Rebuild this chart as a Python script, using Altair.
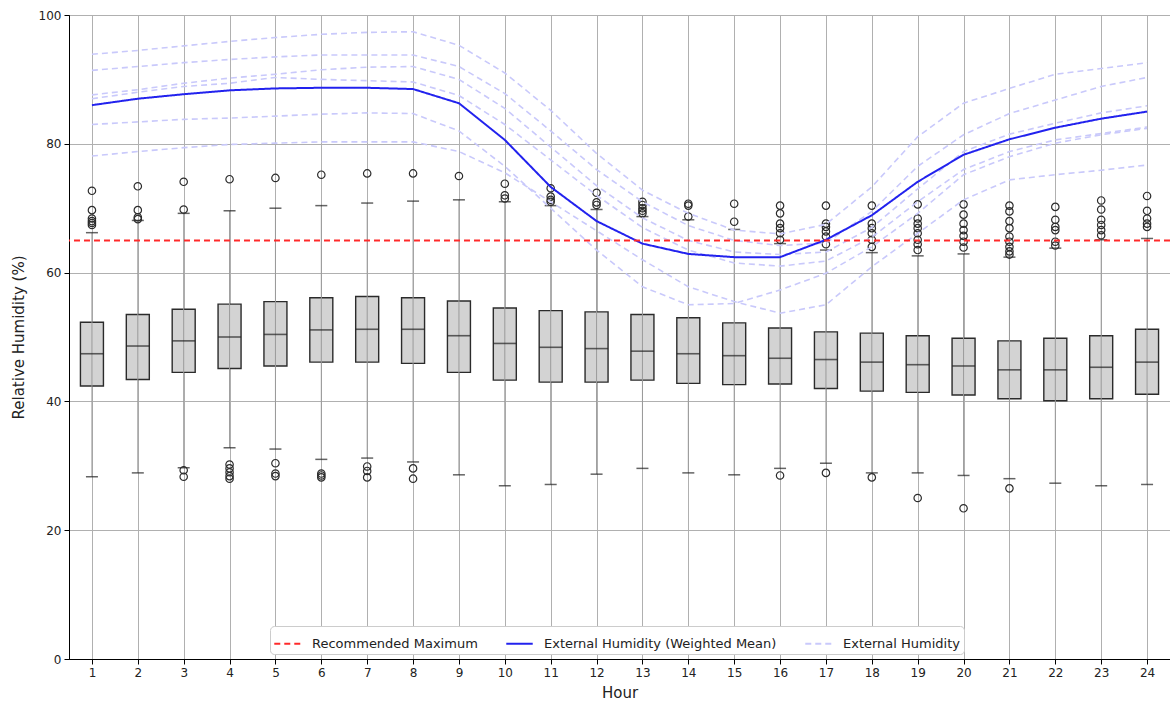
import altair as alt
import pandas as pd

# ---- data -------------------------------------------------------------
hours = list(range(1, 25))

q1 = [42.4, 43.4, 44.5, 45.1, 45.5, 46.1, 46.1, 45.9, 44.5, 43.3, 43.0, 43.0,
      43.3, 42.8, 42.6, 42.7, 42.0, 41.6, 41.4, 41.0, 40.4, 40.1, 40.4, 41.1]
median = [47.4, 48.6, 49.4, 50.0, 50.4, 51.1, 51.2, 51.2, 50.2, 49.0, 48.4, 48.2,
          47.8, 47.4, 47.1, 46.7, 46.5, 46.1, 45.7, 45.5, 44.9, 44.9, 45.3, 46.1]
q3 = [52.3, 53.5, 54.3, 55.1, 55.5, 56.1, 56.3, 56.1, 55.6, 54.5, 54.1, 53.9,
      53.5, 53.0, 52.2, 51.4, 50.8, 50.6, 50.2, 49.8, 49.4, 49.8, 50.2, 51.2]
whisker_low = [28.3, 28.9, 29.7, 32.8, 32.6, 31.0, 31.2, 30.6, 28.6, 26.9, 27.1, 28.7,
               29.6, 28.9, 28.6, 29.6, 30.4, 28.9, 28.9, 28.5, 28.0, 27.3, 26.9, 27.1]
whisker_high = [66.2, 68.1, 69.2, 69.6, 70.0, 70.4, 70.8, 71.1, 71.3, 71.0, 70.4, 69.8,
                68.7, 68.2, 66.7, 64.5, 63.5, 63.1, 62.6, 62.9, 62.4, 63.8, 65.1, 65.3]

outliers_high = [
    [72.7, 69.7, 68.4, 68.0, 67.7, 67.4],
    [73.4, 69.7, 68.6, 68.3],
    [74.1, 69.8],
    [74.5],
    [74.7],
    [75.2],
    [75.4],
    [75.4],
    [75.0],
    [73.8, 72.0, 71.5],
    [73.1, 71.8, 71.3, 71.0],
    [72.4, 70.9, 70.5],
    [71.0, 70.5, 70.0, 69.6, 69.2],
    [70.7, 70.4, 68.7],
    [70.7, 67.9],
    [70.4, 69.2, 67.6, 66.9, 66.1, 65.1],
    [70.4, 67.6, 67.1, 66.4, 65.6, 64.4],
    [70.4, 67.6, 66.9, 66.1, 65.1, 64.0],
    [70.6, 68.4, 67.6, 66.9, 66.1, 65.1, 64.4, 63.5],
    [70.6, 69.0, 67.6, 66.6, 65.7, 64.8, 63.9],
    [70.4, 69.5, 68.0, 66.9, 65.6, 64.8, 64.0, 63.3, 62.8],
    [70.2, 68.2, 67.1, 66.6, 64.8, 64.2],
    [71.2, 69.8, 68.2, 67.4, 66.6, 65.8],
    [71.9, 69.6, 68.4, 67.6, 67.1],
]
outliers_low = [
    [], [], [29.3, 28.3], [30.2, 29.6, 29.0, 28.4, 28.0], [30.4, 28.8, 28.4],
    [28.8, 28.5, 28.2], [29.9, 29.2, 28.2], [29.6, 28.0], [], [], [], [], [], [],
    [], [28.5], [28.9], [28.2], [25.0], [23.4], [26.5], [], [], [],
]

weighted_mean = [86.0, 87.0, 87.7, 88.3, 88.6, 88.7, 88.7, 88.5, 86.3, 80.6, 73.3, 68.0,
                 64.5, 62.9, 62.4, 62.4, 65.1, 68.9, 74.1, 78.3, 80.7, 82.5, 83.9, 85.0]

external = {
    "A": [93.9, 94.5, 95.2, 95.9, 96.5, 97.0, 97.3, 97.4, 95.3, 91.0, 85.2, 78.5,
          72.8, 69.2, 66.6, 66.0, 67.5, 73.3, 81.1, 86.3, 88.6, 90.8, 91.7, 92.6],
    "B": [91.4, 92.0, 92.6, 93.1, 93.5, 93.8, 93.8, 93.8, 92.0, 87.8, 82.0, 76.0,
          71.0, 67.3, 65.0, 64.2, 64.6, 69.5, 76.5, 81.4, 84.7, 86.8, 88.9, 90.3],
    "C": [87.6, 88.4, 89.4, 90.2, 90.8, 91.5, 91.9, 92.0, 90.0, 85.5, 79.5, 73.5,
          68.5, 65.0, 63.2, 62.8, 63.2, 67.0, 73.0, 78.8, 81.5, 83.2, 84.8, 85.9],
    "D": [87.0, 88.0, 88.9, 89.4, 90.3, 90.0, 89.8, 89.6, 87.5, 83.0, 77.5, 72.0,
          67.0, 63.5, 61.5, 61.0, 61.8, 65.5, 71.0, 76.0, 78.8, 80.6, 81.6, 82.6],
    "E": [83.0, 83.4, 83.8, 84.0, 84.3, 84.6, 84.8, 84.7, 82.0, 76.5, 70.0, 63.5,
          57.8, 55.0, 55.2, 57.3, 59.9, 64.0, 69.2, 75.2, 78.0, 80.1, 81.4, 82.4],
    "F": [78.1, 78.8, 79.4, 79.9, 80.1, 80.3, 80.3, 80.3, 78.8, 75.5, 71.0, 66.5,
          62.0, 57.8, 55.5, 53.7, 55.0, 60.9, 66.1, 71.3, 74.4, 75.2, 75.9, 76.7],
}

recommended_max = 65

series_names = ["Recommended Maximum", "External Humidity (Weighted Mean)", "External Humidity"]
series_colors = ["#ff2a2a", "#2222ee", "#c9c9fb"]
series_dashes = [[6, 4], [1, 0], [6, 4]]

# ---- tables -----------------------------------------------------------
box_df = pd.DataFrame({"hour": hours, "q1": q1, "median": median, "q3": q3,
                       "low": whisker_low, "high": whisker_high})
out_df = pd.DataFrame(
    [{"hour": h, "value": v} for h, hi, lo in zip(hours, outliers_high, outliers_low) for v in hi + lo]
)
mean_df = pd.DataFrame({"hour": hours, "value": weighted_mean, "series": series_names[1]})
ext_df = pd.DataFrame(
    [{"hour": h, "value": v, "station": k, "series": series_names[2]}
     for k, vals in external.items() for h, v in zip(hours, vals)]
)
rec_df = pd.DataFrame({"value": [recommended_max], "series": [series_names[0]]})

# ---- shared encodings -------------------------------------------------
FONT = "DejaVu Sans"
x_scale = alt.Scale(domain=[0.5, 24.5], nice=False, zero=False, padding=0)
y_scale = alt.Scale(domain=[0, 100], nice=False)
x_axis = alt.Axis(values=hours, format="d", title="Hour", grid=True)
y_axis = alt.Axis(values=[0, 20, 40, 60, 80, 100], title="Relative Humidity (%)", grid=True)


def X():
    return alt.X("hour:Q", scale=x_scale, axis=x_axis, title="Hour")


def Y(field):
    return alt.Y(f"{field}:Q", scale=y_scale, axis=y_axis, title="Relative Humidity (%)")


color_enc = alt.Color("series:N", scale=alt.Scale(domain=series_names, range=series_colors),
                      legend=alt.Legend(title=None))
dash_enc = alt.StrokeDash("series:N", scale=alt.Scale(domain=series_names, range=series_dashes),
                          legend=alt.Legend(title=None))

# ---- marks ------------------------------------------------------------
boxes = alt.Chart(box_df).mark_bar(size=23, fill="#d3d3d3", stroke="#2b2b2b", strokeWidth=1.4).encode(
    x=X(), y=Y("q1"), y2="q3"
)
whiskers = alt.Chart(box_df).mark_rule(color="#9a9a9a", strokeWidth=1).encode(
    x=X(), y=Y("low"), y2="high"
)
medians = alt.Chart(box_df).mark_tick(orient="horizontal", size=23, thickness=1.6, color="#222222").encode(
    x=X(), y=Y("median")
)
caps_low = alt.Chart(box_df).mark_tick(orient="horizontal", size=12, thickness=1.5, color="#222222").encode(
    x=X(), y=Y("low")
)
caps_high = alt.Chart(box_df).mark_tick(orient="horizontal", size=12, thickness=1.5, color="#222222").encode(
    x=X(), y=Y("high")
)
outliers = alt.Chart(out_df).mark_point(shape="circle", filled=False, size=55, stroke="#2b2b2b",
                                        strokeWidth=1.2, opacity=1).encode(
    x=X(), y=Y("value")
)
ext_lines = alt.Chart(ext_df).mark_line(strokeWidth=1.6).encode(
    x=X(), y=Y("value"), detail="station:N", color=color_enc, strokeDash=dash_enc
)
mean_line = alt.Chart(mean_df).mark_line(strokeWidth=2).encode(
    x=X(), y=Y("value"), color=color_enc, strokeDash=dash_enc
)
rec_rule = alt.Chart(rec_df).mark_rule(strokeWidth=2).encode(
    y=Y("value"), color=color_enc, strokeDash=dash_enc
)

chart = alt.layer(
    boxes, whiskers, medians, caps_low, caps_high, outliers, ext_lines, mean_line, rec_rule
).properties(
    width=1101,
    height=644,
    autosize=alt.AutoSizeParams(type="none"),
    padding={"left": 69, "top": 15, "right": 0, "bottom": 44},
).configure_view(
    stroke="#000000", strokeWidth=1
).configure_axis(
    labelFont=FONT, titleFont=FONT, labelFontSize=12, titleFontSize=15,
    labelColor="#222222", titleColor="#222222", titleFontWeight="normal",
    gridColor="#b0b0b0", gridWidth=1, gridOpacity=1,
    domainColor="#000000", tickColor="#000000", tickSize=5, labelPadding=3,
).configure_axisX(
    titlePadding=7
).configure_axisY(
    titlePadding=12
).configure_legend(
    orient="none", legendX=201, legendY=611, direction="horizontal", columns=3,
    labelFont=FONT, labelFontSize=13, labelColor="#222222",
    symbolType="stroke", symbolSize=700, symbolStrokeWidth=2,
    fillColor="#ffffff", strokeColor="#cccccc", cornerRadius=4, padding=3,
    labelOffset=10, columnPadding=24, labelLimit=400,
)

chart.save("out.html", embed_options={"renderer": "svg", "actions": False})
